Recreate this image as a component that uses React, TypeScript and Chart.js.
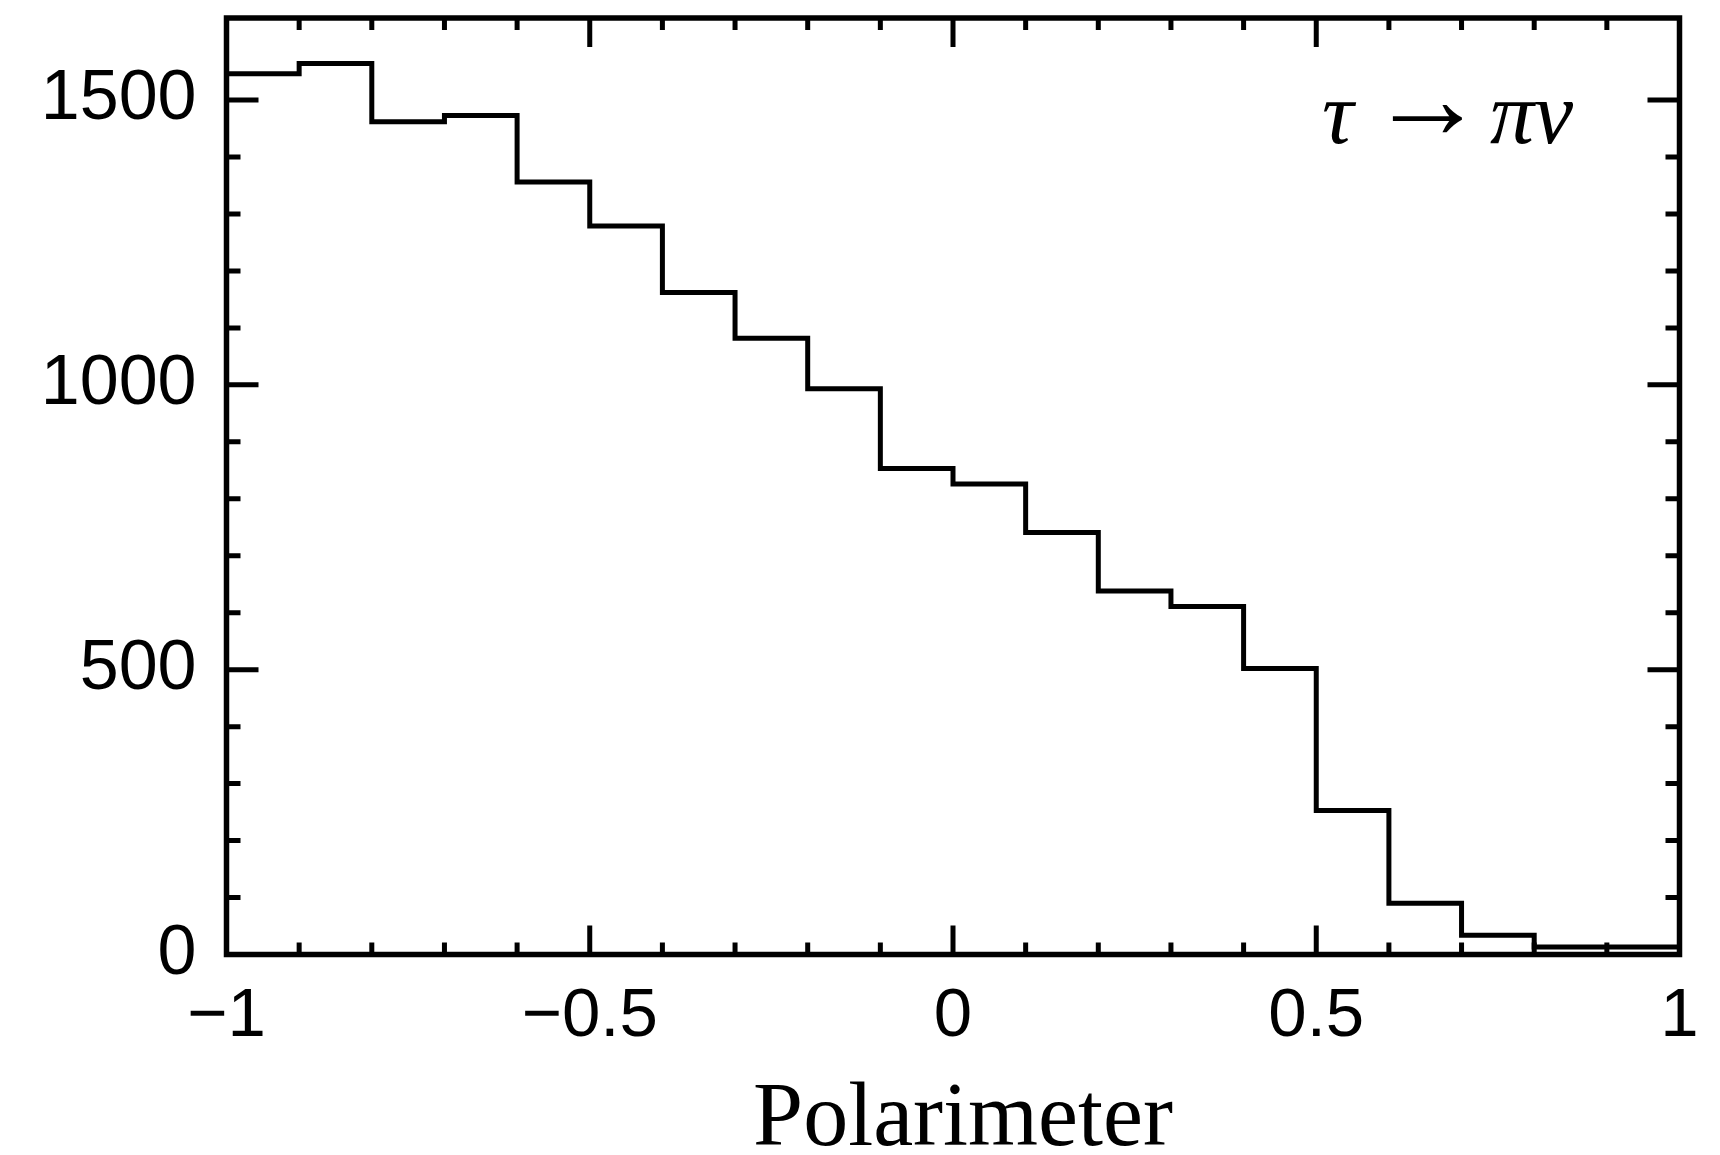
import React, { useEffect, useRef } from "react";
import { Chart, registerables } from "chart.js";

Chart.register(...registerables);

const binEdges = [-1, -0.9, -0.8, -0.7, -0.6, -0.5, -0.4, -0.3, -0.2, -0.1, 0, 0.1, 0.2, 0.3, 0.4, 0.5, 0.6, 0.7, 0.8, 0.9, 1];
const binCounts = [1546, 1564, 1462, 1473, 1356, 1279, 1162, 1082, 993, 853, 826, 741, 638, 611, 502, 253, 90, 34, 13, 13];
const xTickLabels: Record<string, string> = { "-1": "\u22121", "-0.5": "\u22120.5", "0": "0", "0.5": "0.5", "1": "1" };
const yTickLabels: Record<string, string> = { "0": "0", "500": "500", "1000": "1000", "1500": "1500" };
const xTitle = "Polarimeter";
const annotation = { left: "\u03C4", arrow: "\u2192", right: "\u03C0\u03BD" };

const keyX = (v: number) => String(Math.round(v * 10) / 10);
const keyY = (v: number) => String(Math.round(v));

const framePlugin = {
  id: "framePlugin",
  afterDatasetsDraw(chart: any) {
    const { ctx, chartArea } = chart;
    const { left, right, top, bottom } = chartArea;
    const xs = chart.scales.x;
    const ys = chart.scales.y;
    ctx.save();
    ctx.strokeStyle = "#000";
    ctx.lineCap = "butt";
    // ticks
    ctx.lineWidth = 5;
    xs.ticks.forEach((t: any) => {
      const v = Math.round(t.value * 10) / 10;
      if (v <= -1 || v >= 1) return;
      const px = xs.getPixelForValue(t.value);
      const major = Math.abs(v * 2 - Math.round(v * 2)) < 1e-6;
      const len = major ? 29 : 12;
      ctx.beginPath();
      ctx.moveTo(px, bottom);
      ctx.lineTo(px, bottom - len);
      ctx.moveTo(px, top);
      ctx.lineTo(px, top + len);
      ctx.stroke();
    });
    ys.ticks.forEach((t: any) => {
      const v = t.value;
      if (Math.abs(v / 100 - Math.round(v / 100)) > 1e-6) return;
      if (v <= 0) return;
      const py = ys.getPixelForValue(v);
      const major = Math.abs(v / 500 - Math.round(v / 500)) < 1e-6;
      const len = major ? 32 : 14;
      ctx.beginPath();
      ctx.moveTo(left, py);
      ctx.lineTo(left + len, py);
      ctx.moveTo(right, py);
      ctx.lineTo(right - len, py);
      ctx.stroke();
    });
    // frame
    ctx.lineWidth = 5.5;
    ctx.strokeRect(left, top, right - left, bottom - top);

    // axis title
    ctx.fillStyle = "#000";
    ctx.font = "90px 'Liberation Serif'";
    ctx.textAlign = "center";
    ctx.textBaseline = "alphabetic";
    ctx.fillText(xTitle, 963, 1145);

    // annotation
    ctx.textAlign = "left";
    ctx.font = "italic 88px 'Liberation Serif'";
    ctx.fillText(annotation.left, 1322, 143);
    ctx.fillText(annotation.right, 1490, 143);
    // arrow sized so its ink spans ~70px, centred at y≈118
    ctx.font = "100px 'Liberation Serif'";
    const m = ctx.measureText(annotation.arrow);
    const inkW = (m.actualBoundingBoxRight + m.actualBoundingBoxLeft) || m.width;
    const sz = 100 * (70 / inkW);
    ctx.font = `${sz}px 'Liberation Serif'`;
    const m2 = ctx.measureText(annotation.arrow);
    const midOff = (m2.actualBoundingBoxAscent - m2.actualBoundingBoxDescent) / 2;
    ctx.fillText(annotation.arrow, 1392 + m2.actualBoundingBoxLeft, 118 + midOff);
    ctx.restore();
  },
};

export default function App() {
  const ref = useRef<HTMLCanvasElement | null>(null);
  useEffect(() => {
    if (!ref.current) return;
    const points = binCounts.map((c, i) => ({ x: binEdges[i], y: c }));
    points.push({ x: binEdges[binEdges.length - 1], y: binCounts[binCounts.length - 1] });
    const chart = new Chart(ref.current, {
      type: "line",
      data: {
        datasets: [
          {
            data: points,
            borderColor: "#000",
            borderWidth: 5,
            pointRadius: 0,
            stepped: "before",
            fill: false,
            tension: 0,
          },
        ],
      },
      options: {
        animation: false,
        responsive: false,
        devicePixelRatio: 1,
        layout: { padding: { left: 0, right: 40.5, top: 18, bottom: 0 } },
        plugins: { legend: { display: false }, tooltip: { enabled: false }, title: { display: false } },
        scales: {
          x: {
            type: "linear",
            min: -1,
            max: 1,
            grid: { display: false },
            border: { display: false },
            ticks: {
              stepSize: 0.1,
              autoSkip: false,
              maxRotation: 0,
              padding: 13,
              color: "#000",
              font: { family: "'Liberation Sans'", size: 69, lineHeight: 1.2 },
              callback: (v: any) => xTickLabels[keyX(Number(v))] ?? "",
            },
            afterFit: (s: any) => {
              s.height = 200.5;
              s.paddingLeft = 0;
              s.paddingRight = 0;
            },
          },
          y: {
            type: "linear",
            min: 0,
            max: 1644,
            grid: { display: false },
            border: { display: false },
            ticks: {
              stepSize: 100,
              autoSkip: false,
              padding: 22,
              color: "#000",
              font: { family: "'Liberation Sans'", size: 70, lineHeight: 1.2 },
              callback: (v: any) => yTickLabels[keyY(Number(v))] ?? "",
            },
            afterFit: (s: any) => {
              s.width = 226.5;
              s.paddingTop = 0;
              s.paddingBottom = 0;
            },
          },
        },
      },
      plugins: [framePlugin],
    });
    return () => chart.destroy();
  }, []);
  return (
    <div style={{ position: "fixed", left: 0, top: 0, width: 1720, height: 1155, background: "#fff" }}>
      <canvas ref={ref} width={1720} height={1155} style={{ width: 1720, height: 1155, display: "block" }} />
    </div>
  );
}
